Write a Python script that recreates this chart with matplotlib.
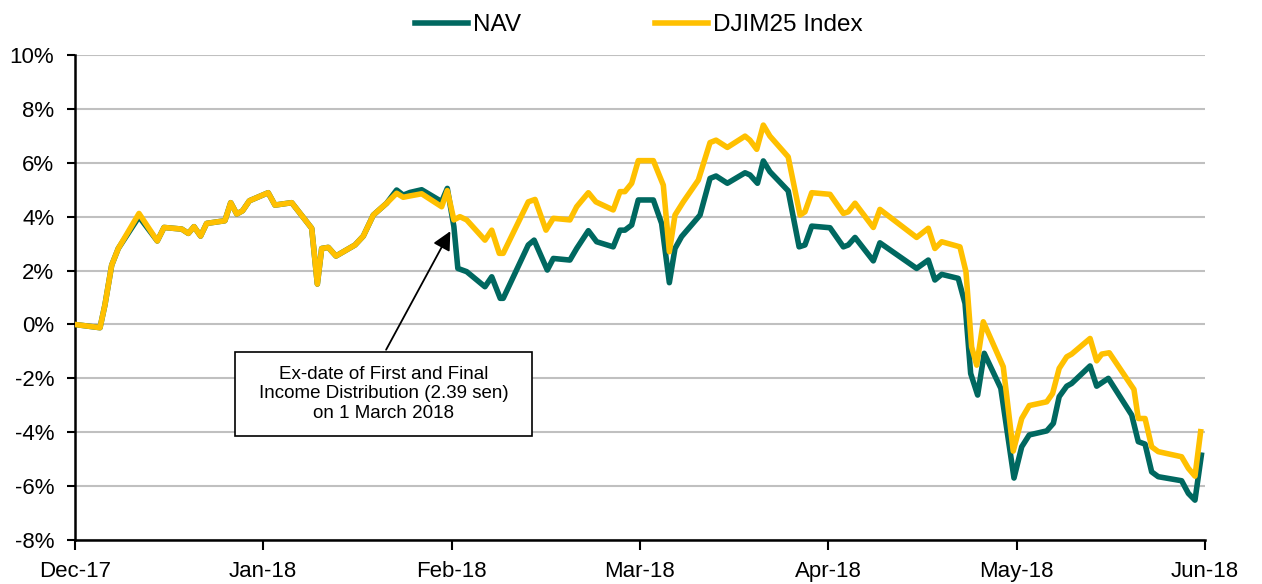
import numpy as np
import matplotlib
matplotlib.use("Agg")
import matplotlib.pyplot as plt
from matplotlib.patches import Rectangle
from matplotlib.ticker import FuncFormatter

plt.rcParams['font.family'] = ['Liberation Sans', 'DejaVu Sans']

# x positions are in months since the Dec-17 tick (0 = Dec-17, 6 = Jun-18)
month_labels = ['Dec-17', 'Jan-18', 'Feb-18', 'Mar-18', 'Apr-18', 'May-18', 'Jun-18']

idx_x = [0.000, 0.133, 0.159, 0.195, 0.230, 0.340, 0.437, 0.473, 0.567, 0.602,
         0.632, 0.667, 0.699, 0.796, 0.827, 0.859, 0.890, 0.926, 1.026, 1.062,
         1.151, 1.257, 1.287, 1.310, 1.345, 1.386, 1.487, 1.531, 1.584, 1.655,
         1.708, 1.743, 1.779, 1.841, 1.947, 1.977, 2.012, 2.044, 2.080, 2.177,
         2.213, 2.253, 2.274, 2.407, 2.443, 2.501, 2.540, 2.628, 2.664, 2.726,
         2.766, 2.858, 2.894, 2.920, 2.956, 2.991, 3.071, 3.124, 3.156, 3.186,
         3.230, 3.310, 3.372, 3.404, 3.464, 3.558, 3.584, 3.620, 3.655, 3.690,
         3.787, 3.850, 3.876, 3.912, 4.009, 4.080, 4.106, 4.142, 4.239, 4.274,
         4.469, 4.531, 4.566, 4.602, 4.699, 4.731, 4.761, 4.788, 4.823, 4.929,
         4.982, 5.027, 5.067, 5.160, 5.191, 5.226, 5.266, 5.292, 5.390, 5.425,
         5.452, 5.492, 5.623, 5.646, 5.682, 5.717, 5.752, 5.876, 5.912, 5.947,
         5.977]
idx_val = [0.00, -0.12, 0.72, 2.20, 2.82, 4.12, 3.10, 3.60, 3.54, 3.38,
           3.63, 3.28, 3.75, 3.85, 4.52, 4.10, 4.22, 4.59, 4.89, 4.43,
           4.52, 3.57, 1.50, 2.82, 2.86, 2.54, 2.95, 3.28, 4.06, 4.50,
           4.87, 4.72, 4.77, 4.85, 4.37, 4.97, 3.88, 4.00, 3.88, 3.13,
           3.50, 2.64, 2.64, 4.55, 4.64, 3.50, 3.94, 3.88, 4.37, 4.89,
           4.55, 4.25, 4.93, 4.93, 5.24, 6.08, 6.08, 5.17, 2.70, 4.06,
           4.55, 5.36, 6.75, 6.84, 6.57, 6.99, 6.84, 6.50, 7.40, 6.99,
           6.22, 4.06, 4.18, 4.89, 4.83, 4.12, 4.18, 4.50, 3.60, 4.27,
           3.23, 3.57, 2.82, 3.07, 2.88, 1.96, -0.83, -1.51, 0.10, -1.57,
           -4.70, -3.49, -3.01, -2.87, -2.56, -1.63, -1.20, -1.10, -0.52, -1.35,
           -1.10, -1.05, -2.41, -3.49, -3.49, -4.54, -4.72, -4.91, -5.34, -5.63,
           -3.98]

nav_x = [0.000, 0.133, 0.159, 0.195, 0.230, 0.340, 0.437, 0.473, 0.567, 0.602,
         0.632, 0.667, 0.699, 0.796, 0.827, 0.859, 0.890, 0.926, 1.026, 1.062,
         1.151, 1.257, 1.287, 1.310, 1.345, 1.386, 1.487, 1.531, 1.584, 1.655,
         1.708, 1.743, 1.779, 1.841, 1.947, 1.977, 2.012, 2.033, 2.080, 2.177,
         2.213, 2.258, 2.274, 2.407, 2.438, 2.508, 2.540, 2.628, 2.664, 2.726,
         2.770, 2.858, 2.894, 2.920, 2.956, 2.991, 3.071, 3.115, 3.156, 3.186,
         3.221, 3.319, 3.372, 3.404, 3.464, 3.558, 3.584, 3.624, 3.655, 3.690,
         3.787, 3.845, 3.876, 3.912, 4.009, 4.080, 4.106, 4.142, 4.239, 4.274,
         4.469, 4.531, 4.566, 4.602, 4.690, 4.726, 4.756, 4.793, 4.828, 4.916,
         4.986, 5.027, 5.067, 5.160, 5.195, 5.226, 5.266, 5.292, 5.390, 5.425,
         5.487, 5.611, 5.646, 5.682, 5.717, 5.752, 5.876, 5.912, 5.947, 5.981]
nav_val = [0.00, -0.12, 0.72, 2.20, 2.82, 4.00, 3.10, 3.60, 3.54, 3.38,
           3.63, 3.28, 3.75, 3.85, 4.52, 4.10, 4.22, 4.59, 4.89, 4.43,
           4.52, 3.57, 1.50, 2.82, 2.86, 2.54, 2.95, 3.28, 4.06, 4.50,
           4.99, 4.80, 4.90, 5.00, 4.56, 5.05, 3.63, 2.08, 1.96, 1.40,
           1.77, 0.97, 0.97, 2.95, 3.13, 2.02, 2.45, 2.39, 2.82, 3.48,
           3.07, 2.88, 3.50, 3.50, 3.69, 4.62, 4.62, 3.75, 1.55, 2.82,
           3.26, 4.06, 5.42, 5.51, 5.24, 5.63, 5.55, 5.24, 6.07, 5.67,
           4.96, 2.88, 2.95, 3.65, 3.59, 2.88, 2.95, 3.23, 2.36, 3.03,
           2.08, 2.39, 1.65, 1.86, 1.71, 0.78, -1.82, -2.62, -1.07, -2.37,
           -5.70, -4.54, -4.10, -3.95, -3.67, -2.68, -2.29, -2.19, -1.54, -2.29,
           -2.00, -3.36, -4.35, -4.44, -5.47, -5.65, -5.80, -6.27, -6.52, -4.85]

fig = plt.figure(figsize=(12.62, 5.84), dpi=100)
ax = fig.add_axes([0.0594, 0.0753, 0.8954, 0.8305])

ax.plot(nav_x, nav_val, color='#006860', lw=4, label='NAV', solid_joinstyle='round', zorder=3)
ax.plot(idx_x, idx_val, color='#FFC000', lw=4, label='DJIM25 Index', solid_joinstyle='round', zorder=4)

ax.set_xlim(0, 6)
ax.set_ylim(-8, 10)
ax.set_yticks(np.arange(-8, 11, 2))
ax.yaxis.set_major_formatter(FuncFormatter(lambda v, p: '%d%%' % v))
ax.set_xticks(range(7))
ax.set_xticklabels(month_labels)

ax.grid(axis='y', color='#C0C0C0', lw=1.5)
ax.set_axisbelow(True)
for s in ['top', 'right']:
    ax.spines[s].set_visible(False)
ax.spines['left'].set_linewidth(1.8)
ax.spines['bottom'].set_linewidth(1.8)
ax.tick_params(axis='y', length=6, width=1.5, labelsize=16, pad=9)
ax.tick_params(axis='x', length=7, width=1.5, labelsize=16, pad=8)

# annotation box with arrow
ax.annotate('', xy=(2.0, 3.55), xytext=(1.645, -1.03),
            arrowprops=dict(arrowstyle='-|>', color='black', lw=1.3, mutation_scale=28),
            zorder=6)
ax.add_patch(Rectangle((0.850, -4.14), 1.577, 3.12, fc='white', ec='black', lw=1.2, zorder=7))
ax.text(1.638, -2.58, 'Ex-date of First and Final\nIncome Distribution (2.39 sen)\non 1 March 2018',
        ha='center', va='center', fontsize=13.5, linespacing=1.2, zorder=8)

fig.legend(loc='upper center', bbox_to_anchor=(0.506, 1.013), ncol=2, frameon=False,
           fontsize=17.5, handlelength=2.2, handletextpad=0.2, columnspacing=5.5)

fig.savefig('out.png', dpi=100)
